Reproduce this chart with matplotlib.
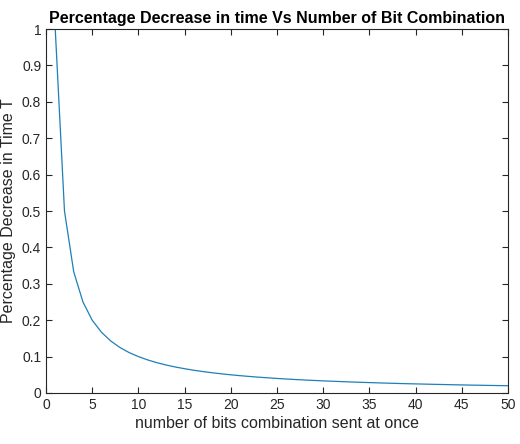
import matplotlib
matplotlib.use("Agg")
import matplotlib.pyplot as plt

bits = list(range(1, 51))
decrease = [1.0, 0.5, 0.333, 0.25, 0.2, 0.167, 0.143, 0.125, 0.111, 0.1,
            0.0909, 0.0833, 0.0769, 0.0714, 0.0667, 0.0625, 0.0588, 0.0556, 0.0526, 0.05,
            0.0476, 0.0455, 0.0435, 0.0417, 0.04, 0.0385, 0.037, 0.0357, 0.0345, 0.0333,
            0.0323, 0.0313, 0.0303, 0.0294, 0.0286, 0.0278, 0.027, 0.0263, 0.0256, 0.025,
            0.0244, 0.0238, 0.0233, 0.0227, 0.0222, 0.0217, 0.0213, 0.0208, 0.0204, 0.02]
xticks = list(range(0, 51, 5))
yticks = [0, 0.1, 0.2, 0.3, 0.4, 0.5, 0.6, 0.7, 0.8, 0.9, 1]
ytick_labels = ["0", "0.1", "0.2", "0.3", "0.4", "0.5", "0.6", "0.7", "0.8", "0.9", "1"]

plt.rcParams['font.family'] = ['Liberation Sans', 'DejaVu Sans']
fig = plt.figure(figsize=(5.2, 4.44), dpi=100)
ax = fig.add_axes([46/520, 1 - 393/444, (508-46)/520, (393-29)/444])
ax.plot(bits, decrease, color='#1f7fb8', linewidth=0.9)
ax.set_xlim(0, 50)
ax.set_ylim(0, 1)
ax.set_xticks(xticks)
ax.set_yticks(yticks)
ax.set_yticklabels(ytick_labels)
ax.tick_params(direction='in', length=4, width=0.8, colors='#262626', labelsize=10,
               top=True, right=True, labelcolor='#262626')
for s in ax.spines.values():
    s.set_color('#262626')
    s.set_linewidth(0.8)
ax.set_title('Percentage Decrease in time Vs Number of Bit Combination',
             fontsize=11.5, fontweight='bold', color='black', pad=4)
ax.set_xlabel('number of bits combination sent at once', fontsize=11.5, color='#262626', labelpad=3)
ax.set_ylabel('Percentage Decrease in Time T', fontsize=11.5, color='#262626', labelpad=4)
fig.savefig('out.png', dpi=100)
